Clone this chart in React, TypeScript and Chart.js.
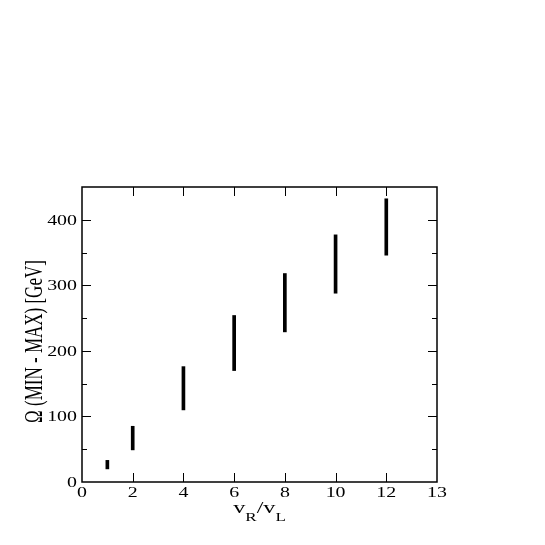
import React, { useEffect, useRef } from "react";
import { Chart, registerables } from "chart.js";

Chart.register(...registerables);

const ratios = [1, 2, 4, 6, 8, 10, 12];
const omegaMin = [20, 49, 110, 170, 229, 288, 346];
const omegaMax = [33, 85, 176, 254, 318, 377, 432];
const xTickLabels = ["0", "2", "4", "6", "8", "10", "12", "13"];
const yTickLabels = ["0", "100", "200", "300", "400"];
const yTitle = "Ω (MIN - MAX) [GeV]";

const SERIF = '"Liberation Serif", "DejaVu Serif", serif';
const STRETCH = 1.42;

const framePlugin = {
  id: "frame",
  afterDraw(chart: any) {
    const { ctx, chartArea } = chart;
    const { left, right, top, bottom } = chartArea;
    const xs = chart.scales.x;
    const ys = chart.scales.y;
    ctx.save();
    ctx.strokeStyle = "#000";
    ctx.fillStyle = "#000";
    ctx.lineWidth = 1.5;
    ctx.strokeRect(left, top, right - left, bottom - top);

    ctx.lineWidth = 1;
    // y ticks (left & right, inward)
    ys.ticks.forEach((t: any) => {
      const v = t.value;
      if (v <= 0 || v >= 450) return;
      const py = Math.round(ys.getPixelForValue(v)) + 0.5;
      const len = v % 100 === 0 ? 9 : 5;
      ctx.beginPath();
      ctx.moveTo(left, py);
      ctx.lineTo(left + len, py);
      ctx.moveTo(right, py);
      ctx.lineTo(right - len, py);
      ctx.stroke();
    });
    // x ticks (bottom & top, inward)
    xs.ticks.forEach((t: any) => {
      const v = t.value;
      if (v <= 0 || v >= 14) return;
      const px = Math.round(xs.getPixelForValue(v)) + 0.5;
      ctx.beginPath();
      ctx.moveTo(px, bottom);
      ctx.lineTo(px, bottom - 9);
      ctx.moveTo(px, top);
      ctx.lineTo(px, top + 9);
      ctx.stroke();
    });

    // tick labels
    ctx.font = `14px ${SERIF}`;
    ctx.textBaseline = "alphabetic";
    yTickLabels.forEach((lab) => {
      const v = Number(lab);
      const py = ys.getPixelForValue(v);
      ctx.save();
      ctx.translate(left - 5, py + 5);
      ctx.scale(STRETCH, 1);
      ctx.textAlign = "right";
      ctx.fillText(lab, 0, 0);
      ctx.restore();
    });
    xs.ticks.forEach((t: any, i: number) => {
      const lab = xTickLabels[i];
      if (lab === undefined) return;
      const px = xs.getPixelForValue(t.value);
      ctx.save();
      ctx.translate(px, bottom + 15);
      ctx.scale(STRETCH, 1);
      ctx.textAlign = "center";
      ctx.fillText(lab, 0, 0);
      ctx.restore();
    });

    // y title
    ctx.save();
    ctx.font = `17px ${SERIF}`;
    ctx.translate(35.5, (top + bottom) / 2 + 7);
    ctx.scale(STRETCH, 1);
    ctx.rotate(-Math.PI / 2);
    ctx.textAlign = "center";
    ctx.textBaseline = "middle";
    ctx.fillText(yTitle, 0, 0);
    ctx.restore();

    // x title: v_R / v_L
    const parts: [string, number, number][] = [
      ["v", 17, 0],
      ["R", 12, 8],
      ["/", 17, 0],
      ["v", 17, 0],
      ["L", 12, 8],
    ];
    let total = 0;
    parts.forEach(([s, f]) => {
      ctx.font = `${f}px ${SERIF}`;
      total += ctx.measureText(s).width;
    });
    const cx = (left + right) / 2 + 0;
    ctx.save();
    ctx.translate(cx - (total * STRETCH) / 2, 513);
    ctx.scale(STRETCH, 1);
    ctx.textAlign = "left";
    ctx.textBaseline = "alphabetic";
    let x = 0;
    parts.forEach(([s, f, dy]) => {
      ctx.font = `${f}px ${SERIF}`;
      ctx.fillText(s, x, dy);
      x += ctx.measureText(s).width;
    });
    ctx.restore();

    ctx.restore();
  },
};

export default function App() {
  const ref = useRef<HTMLCanvasElement | null>(null);
  useEffect(() => {
    if (!ref.current) return;
    const chart = new Chart(ref.current, {
      type: "bar",
      data: {
        datasets: [
          {
            data: ratios.map((r, i) => ({ x: r, y: [omegaMin[i], omegaMax[i]] })) as any,
            backgroundColor: "#000",
            borderWidth: 0,
            barThickness: 3,
          },
        ],
      },
      options: {
        responsive: false,
        animation: false,
        layout: { padding: { left: 82, top: 187, right: 108, bottom: 63 } },
        plugins: { legend: { display: false }, tooltip: { enabled: false } },
        scales: {
          x: {
            type: "linear",
            min: 0,
            max: 14,
            offset: false,
            ticks: { display: false, stepSize: 2 },
            grid: { display: false, drawTicks: false },
            border: { display: false },
            afterFit: (s: any) => {
              s.height = 0;
            },
          },
          y: {
            type: "linear",
            min: 0,
            max: 450,
            ticks: { display: false, stepSize: 50 },
            grid: { display: false, drawTicks: false },
            border: { display: false },
            afterFit: (s: any) => {
              s.width = 0;
            },
          },
        },
      },
      plugins: [framePlugin],
    });
    return () => chart.destroy();
  }, []);
  return (
    <div style={{ position: "fixed", left: 0, top: 0, width: 545, height: 545, background: "#fff" }}>
      <canvas ref={ref} width={545} height={545} style={{ display: "block" }} />
    </div>
  );
}
